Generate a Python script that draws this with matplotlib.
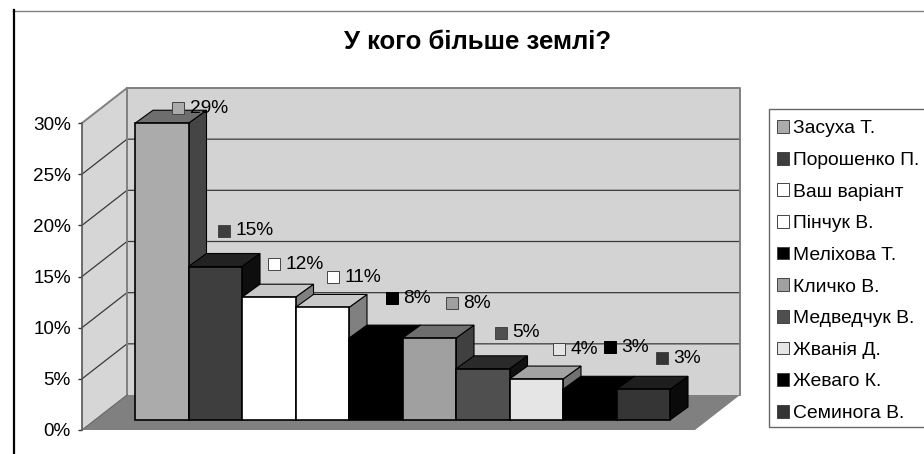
import matplotlib
matplotlib.use("Agg")
import matplotlib.pyplot as plt
from matplotlib.lines import Line2D
from matplotlib.patches import Patch, Polygon, Rectangle

plt.rcParams['font.family'] = ['Liberation Sans', 'DejaVu Sans']

names = ["Засуха Т.", "Порошенко П.", "Ваш варіант", "Пінчук В.", "Меліхова Т.",
         "Кличко В.", "Медведчук В.", "Жванія Д.", "Жеваго К.", "Семинога В."]
values = [29, 15, 12, 11, 8, 8, 5, 4, 3, 3]
y_ticks = [0, 5, 10, 15, 20, 25, 30]

front_colors = ["#ababab", "#3e3e3e", "#ffffff", "#ffffff", "#000000",
                "#a0a0a0", "#4f4f4f", "#e5e5e5", "#000000", "#353535"]
top_colors = ["#6e6e6e", "#222222", "#c8c8c8", "#c8c8c8", "#000000",
              "#6e6e6e", "#2a2a2a", "#a3a3a3", "#000000", "#1e1e1e"]
side_colors = ["#454545", "#0e0e0e", "#808080", "#808080", "#000000",
               "#404040", "#111111", "#717171", "#000000", "#0a0a0a"]

# where each data label sits, in pixels from the middle of the bar's top edge
label_dx = [16.5, 8.5, 5, 11, 16, 22.5, 18, 22.5, 20.5, 18.5]
label_dy = [15, 36, 33, 30, 40, 35, 36, 30, 42, 31]

W, H = 924, 454
fig = plt.figure(figsize=(W / 100, H / 100), dpi=100)

# axes is the front plane of the 3d box, one x unit is one bar
ax_left, ax_right, ax_top, ax_bottom = 82, 695, 123, 430
ax = fig.add_axes([ax_left / W, 1 - ax_bottom / H, (ax_right - ax_left) / W, (ax_bottom - ax_top) / H])
px_x = 53.5
px_y = (ax_bottom - ax_top) / 30
x_max = (ax_right - ax_left) / px_x
ax.set_xlim(0, x_max)
ax.set_ylim(0, 30)
ax.patch.set_visible(False)

wall_dx, wall_dy = 45 / px_x, 35 / px_y
bar_dx, bar_dy = 18 / px_x, 13 / px_y
base_y = 10 / px_y
first_bar = 53 / px_x

def poly(points, face, edge="none", lw=0.0, z=1):
    ax.add_patch(Polygon(points, closed=True, facecolor=face, edgecolor=edge, linewidth=lw,
                         zorder=z, clip_on=False, joinstyle="miter"))

# walls and floor
poly([(0, 0), (0, 30), (wall_dx, 30 + wall_dy), (wall_dx, wall_dy)], "#d6d6d6", z=1)
poly([(wall_dx, wall_dy), (wall_dx, 30 + wall_dy), (x_max + wall_dx, 30 + wall_dy), (x_max + wall_dx, wall_dy)],
     "#d3d3d3", z=1)
poly([(0, 0), (x_max, 0), (x_max + wall_dx, wall_dy), (wall_dx, wall_dy)], "#808080", z=1)

for t in y_ticks:
    if t > 0 and t < 30:
        ax.plot([0, wall_dx, x_max + wall_dx], [t, t + wall_dy, t + wall_dy], color="#3a3a3a", lw=0.9, zorder=2,
                clip_on=False)
ax.plot([0, wall_dx, x_max + wall_dx, x_max + wall_dx], [30, 30 + wall_dy, 30 + wall_dy, wall_dy],
        color="#808080", lw=1.4, zorder=2, clip_on=False)
ax.plot([wall_dx, wall_dx], [wall_dy, 30 + wall_dy], color="#808080", lw=1.4, zorder=2, clip_on=False)
ax.plot([0, wall_dx], [0, wall_dy], color="#666666", lw=0.8, zorder=2, clip_on=False)

# bars, left to right so each one covers the side of the previous one
z = 3
for i, v in enumerate(values):
    x0 = first_bar + i
    top = base_y + v
    poly([(x0 + 1, base_y), (x0 + 1, top), (x0 + 1 + bar_dx, top + bar_dy), (x0 + 1 + bar_dx, base_y + bar_dy)],
         side_colors[i], "black", 0.8, z)
    poly([(x0, top), (x0 + 1, top), (x0 + 1 + bar_dx, top + bar_dy), (x0 + bar_dx, top + bar_dy)],
         top_colors[i], "black", 0.8, z)
    ax.bar(x0 + 0.5, v, width=1, bottom=base_y, color=front_colors[i], edgecolor="black", linewidth=1.2,
           zorder=z + 0.5, clip_on=False)
    z += 1

# data labels with their little colour keys
for i, v in enumerate(values):
    xy = (first_bar + i + 0.5, base_y + v)
    ax.annotate(f"{v}%", xy, xytext=(label_dx[i] * 0.72 + 8.2, label_dy[i] * 0.72), textcoords="offset points",
                fontsize=13.8, va="center", ha="left", color="#000000", zorder=30, annotation_clip=False)
    cx = xy[0] + label_dx[i] / px_x
    cy = xy[1] + label_dy[i] / px_y
    ax.add_patch(Rectangle((cx - 6 / px_x, cy - 6 / px_y), 12 / px_x, 12 / px_y, facecolor=front_colors[i],
                           edgecolor="#444444" if front_colors[i] != "#000000" else "black", linewidth=0.7,
                           zorder=31, clip_on=False))

# axis
for s in ["top", "right", "bottom"]:
    ax.spines[s].set_visible(False)
ax.spines["left"].set_color("#555555")
ax.spines["left"].set_linewidth(1.2)
ax.spines["left"].set_zorder(5)
ax.set_xticks([])
ax.set_yticks(y_ticks)
ax.set_yticklabels([f"{t}%" for t in y_ticks], fontsize=13.6, color="#000000")
ax.tick_params(axis="y", length=3, width=1.0, color="#333333", pad=5)

fig.text(478 / W, 1 - 42 / H, "У кого більше землі?", fontsize=18.5, fontweight="bold", ha="center", va="center",
         color="#000000")

# page border, only top and left are visible
fig.add_artist(Line2D([13 / W, 1], [1 - 10.5 / H, 1 - 10.5 / H], color="#808080", lw=1.0))
fig.add_artist(Line2D([13.5 / W, 13.5 / W], [0, 1 - 10 / H], color="black", lw=1.6))

# legend box runs off the right edge of the picture, so it is drawn on its own
fig.add_artist(Rectangle((769 / W, 1 - 427 / H), 170 / W, 318 / H, transform=fig.transFigure, facecolor="white",
                         edgecolor="#666666", linewidth=1.0, zorder=-1))
handles = [Patch(facecolor=c, edgecolor="#444444", linewidth=0.7) for c in front_colors]
leg = ax.legend(handles, names, loc="upper left", bbox_to_anchor=(768.5 / W, 1 - 112 / H),
                bbox_transform=fig.transFigure, borderaxespad=0, fontsize=13.9, frameon=False,
                handlelength=0.64, handleheight=0.64, handletextpad=0.2, labelspacing=0.75, borderpad=0.42)
for t in leg.get_texts():
    t.set_color("#000000")

fig.savefig("out.png", dpi=100)
